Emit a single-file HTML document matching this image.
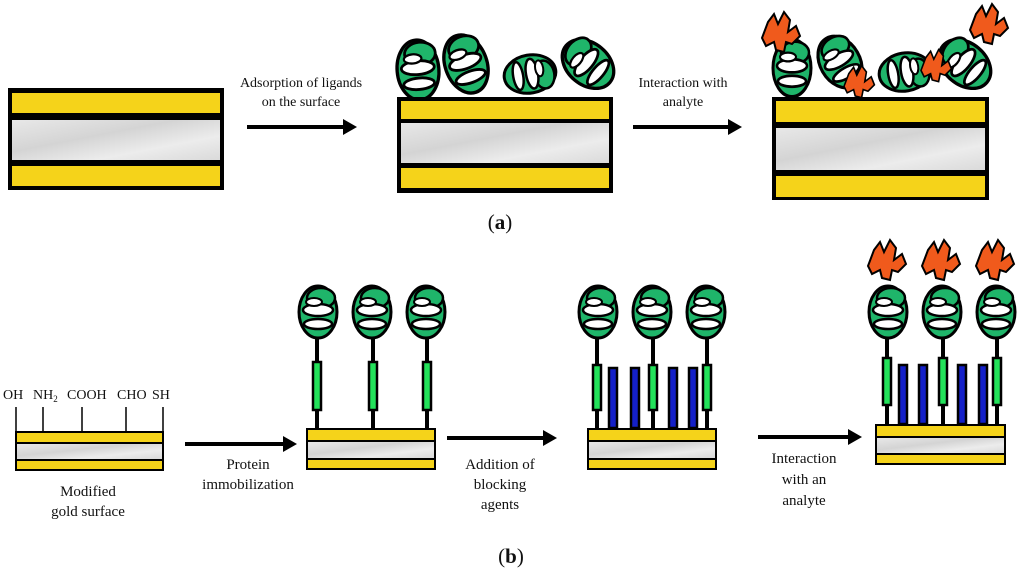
<!DOCTYPE html>
<html><head><meta charset="utf-8"><style>
html,body{margin:0;padding:0;background:#fff;width:1024px;height:577px;overflow:hidden}
text{font-family:"Liberation Serif",serif;fill:#111}
</style></head><body>
<svg width="1024" height="577" viewBox="0 0 1024 577" xmlns="http://www.w3.org/2000/svg">
<defs>
<linearGradient id="gr" x1="0" y1="0" x2="1" y2="1">
<stop offset="0" stop-color="#e8e8e8"/><stop offset="0.4" stop-color="#d4d4d4"/><stop offset="0.7" stop-color="#ececec"/><stop offset="1" stop-color="#dadada"/>
</linearGradient>
<g id="prot">
<ellipse cx="0" cy="0" rx="19" ry="26" fill="#1fb56a" stroke="#000" stroke-width="3"/>
<ellipse cx="3" cy="-14" rx="14" ry="10" fill="#1fb56a" stroke="#000" stroke-width="2.5"/>
<ellipse cx="0" cy="-2" rx="15" ry="6" fill="#fff" stroke="#000" stroke-width="2.5"/>
<ellipse cx="0" cy="12" rx="14" ry="5" fill="#fff" stroke="#000" stroke-width="2.5"/>
<ellipse cx="-4" cy="-10" rx="8" ry="4" fill="#fff" stroke="#000" stroke-width="2"/>
</g>
<g id="orng">
<path d="M-14,-18 l6,-8 l4,10 l6,-12 l6,8 l-2,12 l8,-6 l4,10 l-8,8 l-6,-2 l-2,10 l-8,-2 l-2,-8 l-8,4 l-4,-8 z" fill="#f05a1c" stroke="#000" stroke-width="2"/>
</g>
<marker id="ah" markerWidth="4" markerHeight="4" refX="0.5" refY="2" orient="auto" markerUnits="strokeWidth"><path d="M0,0 L3.5,2 L0,4 z" fill="#000"/></marker>
</defs>

<rect x="8" y="88" width="216" height="102" fill="#000"/>
<rect x="12" y="93" width="208" height="20" fill="#f5d31a"/>
<rect x="12" y="120" width="208" height="40" fill="url(#gr)"/>
<rect x="12" y="166" width="208" height="20" fill="#f5d31a"/>

<line x1="247" y1="127" x2="345" y2="127" stroke="#000" stroke-width="4" marker-end="url(#ah)"/>
<text x="301" y="87" font-size="14" text-anchor="middle">Adsorption of ligands</text>
<text x="301" y="106" font-size="14" text-anchor="middle">on the surface</text>

<g transform="translate(418,70) rotate(-5) scale(1.1,1.15)"><use href="#prot"/></g>
<g transform="translate(466,64) rotate(-20) scale(1.1,1.15)"><use href="#prot"/></g>
<g transform="translate(530,74) rotate(80) scale(1.0)"><use href="#prot"/></g>
<g transform="translate(588,64) rotate(-50) scale(1.1)"><use href="#prot"/></g>
<rect x="397" y="97" width="216" height="96" fill="#000"/>
<rect x="401" y="101" width="208" height="18" fill="#f5d31a"/>
<rect x="401" y="123" width="208" height="40" fill="url(#gr)"/>
<rect x="401" y="168" width="208" height="20" fill="#f5d31a"/>

<line x1="633" y1="127" x2="730" y2="127" stroke="#000" stroke-width="4" marker-end="url(#ah)"/>
<text x="683" y="87" font-size="14" text-anchor="middle">Interaction with</text>
<text x="683" y="106" font-size="14" text-anchor="middle">analyte</text>

<g transform="translate(792,68) scale(1.0,1.1)"><use href="#prot"/></g>
<g transform="translate(840,62) rotate(-30) scale(1.05)"><use href="#prot"/></g>
<g transform="translate(905,72) rotate(80) scale(1.0)"><use href="#prot"/></g>
<g transform="translate(965,64) rotate(-50) scale(1.1)"><use href="#prot"/></g>
<g transform="translate(782,40)"><use href="#orng"/></g>
<g transform="translate(860,88) scale(0.8)"><use href="#orng"/></g>
<g transform="translate(937,72) scale(0.8)"><use href="#orng"/></g>
<g transform="translate(990,32)"><use href="#orng"/></g>
<rect x="772" y="97" width="217" height="103" fill="#000"/>
<rect x="776" y="101" width="209" height="21" fill="#f5d31a"/>
<rect x="776" y="128" width="209" height="42" fill="url(#gr)"/>
<rect x="776" y="176" width="209" height="21" fill="#f5d31a"/>

<text x="500" y="229" font-size="21" text-anchor="middle">(<tspan font-weight="bold">a</tspan>)</text>

<text x="3" y="399" font-size="14">OH</text>
<text x="33" y="399" font-size="14">NH<tspan font-size="9" dy="3">2</tspan></text>
<text x="67" y="399" font-size="14">COOH</text>
<text x="117" y="399" font-size="14">CHO</text>
<text x="152" y="399" font-size="14">SH</text>
<g stroke="#000" stroke-width="1.5">
<line x1="16" y1="407" x2="16" y2="432"/><line x1="43" y1="407" x2="43" y2="432"/>
<line x1="82" y1="407" x2="82" y2="432"/><line x1="126" y1="407" x2="126" y2="432"/>
<line x1="163" y1="407" x2="163" y2="432"/>
</g>
<rect x="15" y="431" width="149" height="40" fill="#000"/>
<rect x="17" y="433" width="145" height="9" fill="#f5d31a"/>
<rect x="17" y="444" width="145" height="15" fill="url(#gr)"/>
<rect x="17" y="461" width="145" height="8" fill="#f5d31a"/>
<text x="88" y="496" font-size="15" text-anchor="middle">Modified</text>
<text x="88" y="516" font-size="15" text-anchor="middle">gold surface</text>

<line x1="185" y1="444" x2="285" y2="444" stroke="#000" stroke-width="4" marker-end="url(#ah)"/>
<text x="248" y="469" font-size="15" text-anchor="middle">Protein</text>
<text x="248" y="489" font-size="15" text-anchor="middle">immobilization</text>

<g stroke="#000" stroke-width="4"><line x1="317" y1="335" x2="317" y2="428"/><line x1="373" y1="335" x2="373" y2="428"/><line x1="427" y1="335" x2="427" y2="428"/></g>
<g fill="#22e25a" stroke="#000" stroke-width="2.5"><rect x="313" y="362" width="8" height="48"/><rect x="369" y="362" width="8" height="48"/><rect x="423" y="362" width="8" height="48"/></g>
<g transform="translate(318,312) scale(1.0,1.0)"><use href="#prot"/></g>
<g transform="translate(372,312) scale(1.0,1.0)"><use href="#prot"/></g>
<g transform="translate(426,312) scale(1.0,1.0)"><use href="#prot"/></g>
<rect x="306" y="428" width="130" height="42" fill="#000"/>
<rect x="308" y="430" width="126" height="10" fill="#f5d31a"/>
<rect x="308" y="442" width="126" height="16" fill="url(#gr)"/>
<rect x="308" y="460" width="126" height="8" fill="#f5d31a"/>

<line x1="447" y1="438" x2="545" y2="438" stroke="#000" stroke-width="4" marker-end="url(#ah)"/>
<text x="500" y="469" font-size="15" text-anchor="middle">Addition of</text>
<text x="500" y="489" font-size="15" text-anchor="middle">blocking</text>
<text x="500" y="509" font-size="15" text-anchor="middle">agents</text>

<g stroke="#000" stroke-width="4"><line x1="597" y1="335" x2="597" y2="428"/><line x1="653" y1="335" x2="653" y2="428"/><line x1="707" y1="335" x2="707" y2="428"/></g>
<g fill="#22e25a" stroke="#000" stroke-width="2.5"><rect x="593" y="365" width="8" height="45"/><rect x="649" y="365" width="8" height="45"/><rect x="703" y="365" width="8" height="45"/></g>
<g fill="#1420c8" stroke="#000" stroke-width="2.5"><rect x="609" y="368" width="8" height="60"/><rect x="631" y="368" width="8" height="60"/><rect x="669" y="368" width="8" height="60"/><rect x="689" y="368" width="8" height="60"/></g>
<g transform="translate(598,312) scale(1.0)"><use href="#prot"/></g>
<g transform="translate(652,312) scale(1.0)"><use href="#prot"/></g>
<g transform="translate(706,312) scale(1.0)"><use href="#prot"/></g>
<rect x="587" y="428" width="130" height="42" fill="#000"/>
<rect x="589" y="430" width="126" height="10" fill="#f5d31a"/>
<rect x="589" y="442" width="126" height="16" fill="url(#gr)"/>
<rect x="589" y="460" width="126" height="8" fill="#f5d31a"/>

<line x1="758" y1="437" x2="850" y2="437" stroke="#000" stroke-width="4" marker-end="url(#ah)"/>
<text x="804" y="463" font-size="15" text-anchor="middle">Interaction</text>
<text x="804" y="484" font-size="15" text-anchor="middle">with an</text>
<text x="804" y="505" font-size="15" text-anchor="middle">analyte</text>

<g stroke="#000" stroke-width="4"><line x1="887" y1="335" x2="887" y2="424"/><line x1="943" y1="335" x2="943" y2="424"/><line x1="997" y1="335" x2="997" y2="424"/></g>
<g fill="#22e25a" stroke="#000" stroke-width="2.5"><rect x="883" y="358" width="8" height="47"/><rect x="939" y="358" width="8" height="47"/><rect x="993" y="358" width="8" height="47"/></g>
<g fill="#1420c8" stroke="#000" stroke-width="2.5"><rect x="899" y="365" width="8" height="59"/><rect x="919" y="365" width="8" height="59"/><rect x="958" y="365" width="8" height="59"/><rect x="979" y="365" width="8" height="59"/></g>
<g transform="translate(888,312) scale(1.0)"><use href="#prot"/></g>
<g transform="translate(942,312) scale(1.0)"><use href="#prot"/></g>
<g transform="translate(996,312) scale(1.0)"><use href="#prot"/></g>
<g transform="translate(888,268)"><use href="#orng"/></g>
<g transform="translate(942,268)"><use href="#orng"/></g>
<g transform="translate(996,268)"><use href="#orng"/></g>
<rect x="875" y="424" width="131" height="41" fill="#000"/>
<rect x="877" y="426" width="127" height="10" fill="#f5d31a"/>
<rect x="877" y="438" width="127" height="15" fill="url(#gr)"/>
<rect x="877" y="455" width="127" height="8" fill="#f5d31a"/>

<text x="511" y="563" font-size="21" text-anchor="middle">(<tspan font-weight="bold">b</tspan>)</text>
</svg>
</body></html>
